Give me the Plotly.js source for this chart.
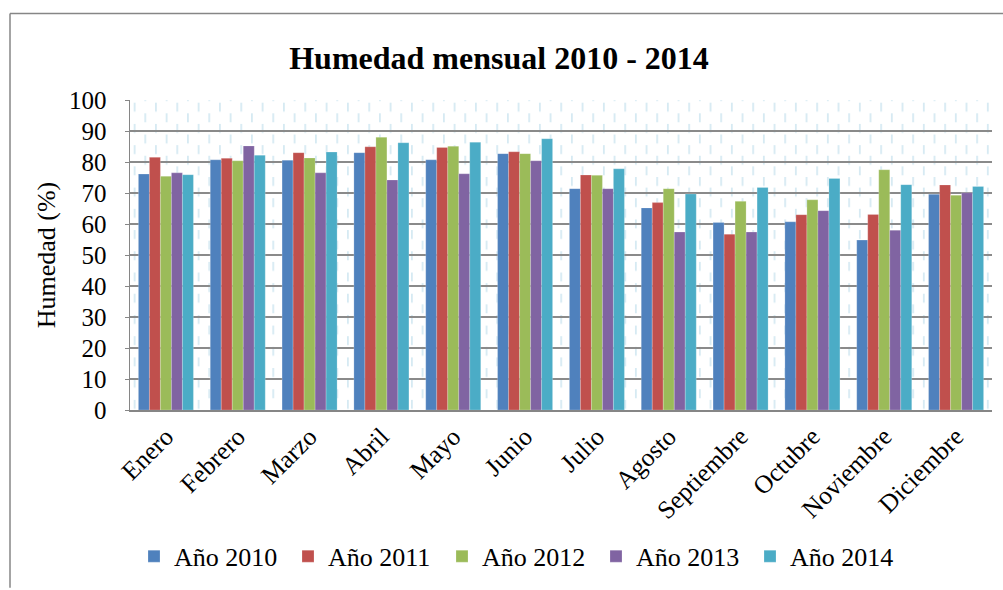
<!DOCTYPE html>
<html>
<head>
<meta charset="utf-8">
<script src="https://cdn.plot.ly/plotly-3.0.1.min.js"></script>
<style>
html,body{margin:0;padding:0;background:#fff;}
#chart{width:1003px;height:590px;}
</style>
</head>
<body>
<div id="chart"></div>
<script>
const months = ["Enero","Febrero","Marzo","Abril","Mayo","Junio","Julio","Agosto","Septiembre","Octubre","Noviembre","Diciembre"];
const seriesNames = ["Año 2010","Año 2011","Año 2012","Año 2013","Año 2014"];
const y2010 = [76.1, 80.7, 80.6, 83.0, 80.7, 82.7, 71.4, 65.2, 60.5, 60.7, 54.8, 69.6];
const y2011 = [81.5, 81.2, 83.0, 84.9, 84.7, 83.3, 75.8, 66.9, 56.7, 63.0, 63.1, 72.6];
const y2012 = [75.4, 80.4, 81.3, 88.0, 85.1, 82.7, 75.7, 71.4, 67.3, 67.8, 77.5, 69.3];
const y2013 = [76.5, 85.2, 76.5, 74.2, 76.2, 80.4, 71.4, 57.4, 57.4, 64.3, 58.0, 70.1];
const y2014 = [75.9, 82.2, 83.2, 86.2, 86.4, 87.5, 77.8, 69.7, 71.8, 74.7, 72.7, 72.1];
const colors = ["#4F81BD","#C0504D","#9BBB59","#8064A2","#4BACC6"];
const allSeries = [y2010, y2011, y2012, y2013, y2014];

const FONT = "Liberation Serif";

const traces = allSeries.map((vals, i) => ({
  type: "bar",
  name: seriesNames[i],
  x: months,
  y: vals,
  marker: {color: colors[i], line: {color: "rgba(255,255,255,0.35)", width: 0.6}},
  hoverinfo: "x+y+name"
}));

// plot area geometry
const L = 130, R = 11, T = 100, B = 178.5;
const W = 1003, H = 590;
const pw = W - L - R, ph = H - T - B;

// dashed vertical pattern background (decoration)
const tile = 21.33;
const svg = `<svg xmlns="http://www.w3.org/2000/svg" width="${pw}" height="${ph}" viewBox="0 0 ${pw} ${ph}" preserveAspectRatio="none">` +
  `<defs><pattern id="p" x="3.7" y="2.7" width="${tile}" height="${tile}" patternUnits="userSpaceOnUse">` +
  `<rect x="0" y="0" width="1.8" height="9" fill="#d6eaf3"/>` +
  `<rect x="${tile/2}" y="${tile/2}" width="1.8" height="9" fill="#d6eaf3"/>` +
  `</pattern></defs><rect width="100%" height="100%" fill="url(#p)"/></svg>`;
const svgUri = "data:image/svg+xml;base64," + btoa(svg);

const px = v => (v - L) / pw;
const py = v => (H - B - v) / ph;

const layout = {
  width: W, height: H,
  margin: {l: L, r: R, t: T, b: B, pad: 0},
  paper_bgcolor: "#ffffff",
  plot_bgcolor: "rgba(0,0,0,0)",
  font: {family: FONT, color: "#000", size: 26},
  title: {
    text: "<b>Humedad mensual 2010 - 2014</b>",
    font: {family: FONT, size: 32, color: "#000"},
    xref: "container", yref: "container",
    x: 0.4975, y: 1 - 58/590, xanchor: "center", yanchor: "middle"
  },
  barmode: "group",
  bargap: 0.234,
  bargroupgap: 0,
  xaxis: {
    type: "category",
    tickangle: -45,
    tickfont: {family: FONT, size: 25.5, color: "#000"},
    showgrid: false,
    showline: true, linecolor: "#868686", linewidth: 1.5,
    ticks: "",
    automargin: false
  },
  yaxis: {
    range: [0, 100],
    dtick: 10,
    tickfont: {family: FONT, size: 25, color: "#000"},
    showgrid: true, gridcolor: "#8a8a8a", gridwidth: 1.5,
    zeroline: false,
    showline: true, linecolor: "#868686", linewidth: 1.5,
    ticks: "outside", ticklen: 4, tickcolor: "#868686",
    ticklabelstandoff: 13,
    title: {text: "Humedad (%)", font: {family: FONT, size: 26, color: "#000"}, standoff: 6},
    automargin: false
  },
  legend: {
    orientation: "h",
    x: px(134), y: py(557), xanchor: "left", yanchor: "middle",
    font: {family: FONT, size: 26, color: "#000"},
    entrywidth: 109, entrywidthmode: "pixels",
    itemwidth: 30,
    bgcolor: "rgba(0,0,0,0)"
  },
  images: [{
    source: svgUri, xref: "paper", yref: "paper",
    x: 0, y: 1, sizex: 1, sizey: 1, sizing: "stretch",
    xanchor: "left", yanchor: "top", layer: "below"
  }],
  shapes: [
    {type: "line", xref: "paper", yref: "paper", x0: px(10), x1: px(10), y0: py(590), y1: py(13),
     line: {color: "#868686", width: 1.5}},
    {type: "line", xref: "paper", yref: "paper", x0: px(10), x1: px(1003), y0: py(13), y1: py(13),
     line: {color: "#868686", width: 1.5}}
  ],
  showlegend: true
};

Plotly.newPlot("chart", traces, layout, {displayModeBar: false, staticPlot: true});
</script>
</body>
</html>
